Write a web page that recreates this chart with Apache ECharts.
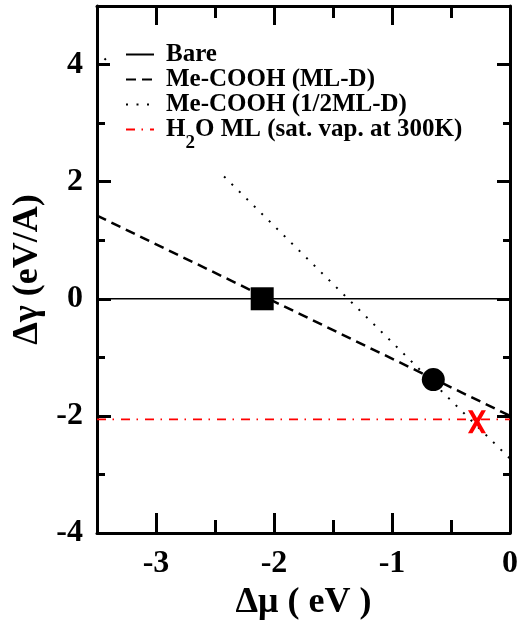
<!DOCTYPE html>
<html>
<head>
<meta charset="utf-8">
<script src="https://cdn.jsdelivr.net/npm/echarts@6/dist/echarts.min.js"></script>
<style>
html,body{margin:0;padding:0;background:#fff;}
#chart{width:519px;height:621px;}
</style>
</head>
<body>
<div id="chart"></div>
<script>
// ---- data ----
const xMajorTicks = [-3, -2, -1, 0];
const xMinorTicks = [-3.5, -2.5, -1.5, -0.5];
const yMajorTicks = [-4, -2, 0, 2, 4];
const yMinorTicks = [-3, -1, 1, 3];

const seriesNames = ['Bare', 'Me-COOH (ML-D)', 'Me-COOH (1/2ML-D)', 'H2O ML (sat. vap. at 300K)'];
const bareLine = [[-3.5, 0], [0, 0]];
const mlLine = [[-3.5, 1.42], [0, -2.0]];
const halfMlLine = [[-3.5, 4.23], [0, -2.73]];
const waterLine = [[-3.5, -2.06], [0, -2.06]];
const squarePoint = [[-2.1, 0]];
const circlePoint = [[-0.65, -1.38]];
const crossPoint = [[-0.28, -2.1]];

const FONT = 'Liberation Serif';
const chart = echarts.init(document.getElementById('chart'), null, {renderer: 'canvas'});

const xBase = {type: 'value', min: -3.5, max: 0, splitLine: {show: false}, gridIndex: 0};
const yBase = {type: 'value', min: -4, max: 5, splitLine: {show: false}, gridIndex: 0};
const lineAx = {show: true, onZero: false, lineStyle: {color: '#000', width: 3}};
const noLine = {show: false, onZero: false};
const noLabel = {show: false};
function ticks(vals, len) {
  return {show: true, inside: true, length: len, customValues: vals, lineStyle: {color: '#000', width: 3}};
}

const option = {
  backgroundColor: '#fff',
  animation: false,
  grid: {left: 97, right: 9, top: 6, bottom: 88, outerBoundsMode: 'none'},
  legend: {
    data: seriesNames,
    orient: 'vertical',
    left: 110, top: 34,
    padding: [8, 10, 20, 15],
    backgroundColor: '#fff',
    itemWidth: 28, itemHeight: 14, itemGap: 0,
    align: 'left',
    itemStyle: {color: 'rgba(0,0,0,0)', borderWidth: 0, opacity: 0},
    formatter: function (name) {
      if (name.indexOf('H2O') === 0) {
        return '{t|H}{s|2}{t|O ML (sat. vap. at 300K)}';
      }
      return '{t|' + name + '}';
    },
    textStyle: {
      fontFamily: FONT, fontWeight: 'bold', fontSize: 25, color: '#000', lineHeight: 25,
      padding: [0, 0, 0, 7],
      rich: {
        t: {fontFamily: FONT, fontWeight: 'bold', fontSize: 25, color: '#000', lineHeight: 25},
        s: {fontFamily: FONT, fontWeight: 'bold', fontSize: 19, color: '#000', lineHeight: 25,
            verticalAlign: 'top', padding: [17, 0, 0, 0]}
      }
    }
  },
  xAxis: [
    Object.assign({}, xBase, {
      position: 'bottom', axisLine: lineAx, axisTick: ticks(xMajorTicks, 20),
      axisLabel: {customValues: xMajorTicks, fontFamily: FONT, fontWeight: 'bold', fontSize: 32, color: '#000', margin: 15},
      name: 'Δμ ( eV )', nameLocation: 'middle', nameGap: 44,
      nameTextStyle: {fontFamily: FONT, fontWeight: 'bold', fontSize: 36, color: '#000'}
    }),
    Object.assign({}, xBase, {position: 'bottom', axisLine: noLine, axisTick: ticks(xMinorTicks, 13), axisLabel: noLabel}),
    Object.assign({}, xBase, {position: 'top', axisLine: lineAx, axisTick: ticks(xMajorTicks, 19), axisLabel: noLabel}),
    Object.assign({}, xBase, {position: 'top', axisLine: noLine, axisTick: ticks(xMinorTicks, 12), axisLabel: noLabel})
  ],
  yAxis: [
    Object.assign({}, yBase, {
      position: 'left', axisLine: lineAx, axisTick: ticks(yMajorTicks, 14),
      axisLabel: {customValues: yMajorTicks, fontFamily: FONT, fontWeight: 'bold', fontSize: 32, color: '#000', margin: 14},
      name: 'Δγ (eV/A)', nameLocation: 'middle', nameGap: 50, nameRotate: 90,
      nameTextStyle: {fontFamily: FONT, fontWeight: 'bold', fontSize: 36, color: '#000'}
    }),
    Object.assign({}, yBase, {position: 'left', axisLine: noLine, axisTick: ticks(yMinorTicks, 8), axisLabel: noLabel}),
    Object.assign({}, yBase, {position: 'right', axisLine: lineAx, axisTick: ticks(yMajorTicks, 13), axisLabel: noLabel}),
    Object.assign({}, yBase, {position: 'right', axisLine: noLine, axisTick: ticks(yMinorTicks, 7), axisLabel: noLabel})
  ],
  series: [
    {name: seriesNames[0], type: 'line', data: bareLine, symbol: 'none', z: 2,
     lineStyle: {color: '#000', width: 1.6, type: 'solid'}, itemStyle: {color: '#000'}},
    {name: seriesNames[1], type: 'line', data: mlLine, symbol: 'none', z: 2,
     lineStyle: {color: '#000', width: 2.5, type: [10, 6]}, itemStyle: {color: '#000'}},
    {name: seriesNames[2], type: 'line', data: halfMlLine, symbol: 'none', z: 2,
     lineStyle: {color: '#000', width: 2, type: [2, 8.5]}, itemStyle: {color: '#000'}},
    {name: seriesNames[3], type: 'line', data: waterLine, symbol: 'none', z: 2,
     lineStyle: {color: '#ff0000', width: 1.6, type: [9, 6.5, 1.5, 7]}, itemStyle: {color: '#ff0000'}},
    {type: 'scatter', data: squarePoint, symbol: 'rect', symbolSize: 23, z: 3,
     itemStyle: {color: '#000', opacity: 1}},
    {type: 'scatter', data: circlePoint, symbol: 'circle', symbolSize: 23, z: 3,
     itemStyle: {color: '#000', opacity: 1}},
    {type: 'scatter', data: crossPoint, z: 3,
     symbol: 'path://M0,0 L5,0 L10,8.5 L15,0 L20,0 L12.7,12.5 L20,25 L15,25 L10,16.5 L5,25 L0,25 L7.3,12.5 Z',
     symbolSize: [18, 23], itemStyle: {color: '#ff0000', opacity: 1}}
  ]
};
chart.setOption(option);
</script>
</body>
</html>
